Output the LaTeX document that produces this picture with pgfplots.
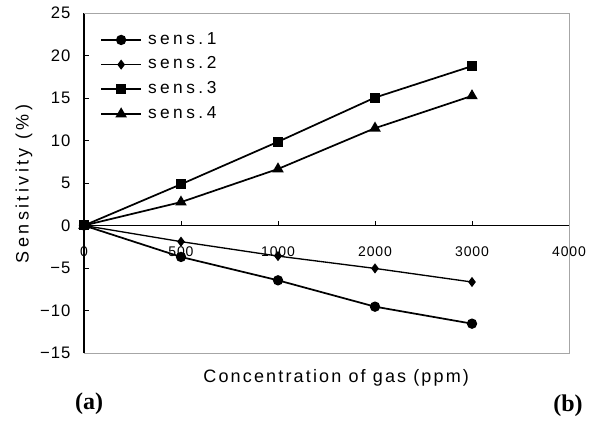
\documentclass[border=0pt]{standalone}
\usepackage{fontspec}
\setmainfont{Liberation Sans}
\newfontfamily\xlabfont[LetterSpace=12]{Liberation Sans}
\newfontfamily\ylabfont[LetterSpace=19]{Liberation Sans}
\newfontfamily\legfont[LetterSpace=20]{Liberation Sans}
\newfontfamily\tickfont[LetterSpace=6]{Liberation Sans}
\newfontfamily\panelfont{Liberation Serif}
\usepackage{pgfplots}
\pgfplotsset{compat=1.18}

\begin{document}
\begin{tikzpicture}
\begin{axis}[
  scale only axis,
  width=363.75pt, height=255pt,
  xmin=0, xmax=5, ymin=-15, ymax=25,
  axis x line=middle, axis y line=left,
  axis line style={-, black, line width=0.8pt},
  hide obscured x ticks=false, hide obscured y ticks=false,
  xtick={0,1,2,3,4,5},
  xticklabels={0,500,1000,2000,3000,4000},
  ytick={-15,-10,-5,0,5,10,15,20,25},
  yticklabels={−15,−10,−5,0,5,10,15,20,25},
  tick align=inside,
  major tick length=3.5pt,
  tick style={black, line width=0.6pt},
  xticklabel style={anchor=north, inner sep=0pt, yshift=-15.5pt,
                    font=\fontsize{10.5}{12}\tickfont},
  yticklabel style={anchor=east, inner sep=0pt, xshift=-10pt,
                    font=\fontsize{12.5}{13}\tickfont},
  xlabel={\xlabfont Concentration of gas (ppm)},
  ylabel={\ylabfont Sensitivity (\%)},
  xlabel style={at={(rel axis cs:0.52,0)}, anchor=center, yshift=-18.75pt,
                font=\fontsize{13.5}{15}\selectfont},
  ylabel style={at={(rel axis cs:0,0.497)}, anchor=center,
                yshift=45pt, font=\fontsize{13.5}{15}\selectfont},
  legend style={at={(rel axis cs:0.033,0.946)}, anchor=north west,
                draw=none, fill=none, inner sep=0pt, row sep=6pt,
                font=\fontsize{13}{14}\legfont,
                nodes={inner sep=0pt, text height=9.5pt, text depth=3pt},
                column sep=4.5pt},
  legend cell align=left,
  legend image code/.code={
    \draw[mark repeat=2, mark phase=2, #1]
      plot coordinates {(0pt,0pt) (15pt,0pt) (30pt,0pt)};},
  every axis plot/.append style={black, line width=1.3pt, mark options={solid, fill=black}},
  clip=false,
]
\addplot[mark=*, mark size=3.2pt] coordinates {
  (0,0) (1,-3.7) (2,-6.45) (3,-9.55) (4,-11.55)};
\addplot[line width=1pt, mark=diamond*, mark size=3pt] coordinates {
  (0,0) (1,-1.9) (2,-3.6) (3,-5.05) (4,-6.65)};
\addplot[mark=square*, mark size=3.1pt] coordinates {
  (0,0) (1,4.85) (2,9.85) (3,15.05) (4,18.75)};
\addplot[mark=triangle*, mark size=3.7pt] coordinates {
  (0,0) (1,2.75) (2,6.65) (3,11.45) (4,15.25)};
\legend{sens.1, sens.2, sens.3, sens.4}
\draw[gray!70, line width=0.5pt] (rel axis cs:0,0) -- (rel axis cs:1,0)
  -- (rel axis cs:1,1) -- (rel axis cs:0,1);
\coordinate (sw) at (rel axis cs:0,0);
\end{axis}
\node[font=\fontsize{18}{19}\panelfont\bfseries] at ([shift={(3.75pt,-38.25pt)}]sw) {(a)};
\node[font=\fontsize{18}{19}\panelfont\bfseries] at ([shift={(363pt,-39.5pt)}]sw) {(b)};
\pgfresetboundingbox
\path[use as bounding box] ([shift={(-63pt,-52.5pt)}]sw) rectangle ([shift={(384pt,264.75pt)}]sw);
\end{tikzpicture}
\end{document}
